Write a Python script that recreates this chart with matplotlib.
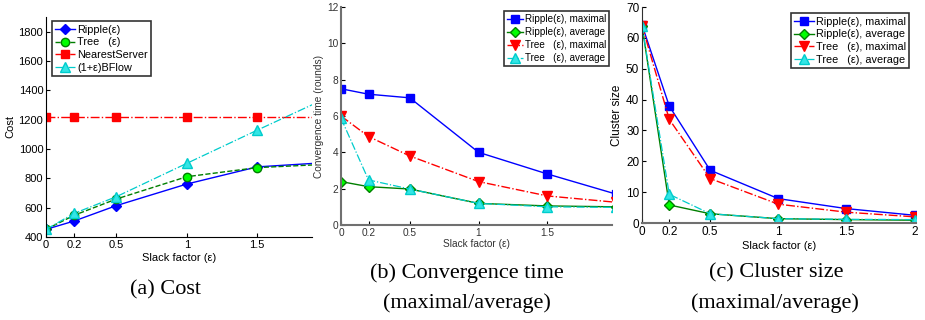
import matplotlib
matplotlib.use('Agg')
import matplotlib.pyplot as plt

plt.rcParams['font.family'] = ['Liberation Sans', 'DejaVu Sans']

# slack factor values (last point lies past the cropped axis edge in a/b)
slack = [0, 0.2, 0.5, 1, 1.5, 2]
slack_ticks = [0, 0.2, 0.5, 1, 1.5]
slack_ticks_c = [0, 0.2, 0.5, 1, 1.5, 2]

# (a) cost
cost_ripple = [452, 509, 614, 761, 878, 908]
cost_tree = [452, 548, 659, 811, 873, 896]
cost_nearest = [1218, 1218, 1218, 1218, 1218, 1218]
cost_bflow = [452, 561, 675, 902, 1128, 1350]

# (b) convergence time (rounds)
conv_ripple_max = [7.5, 7.2, 7.0, 4.0, 2.81, 1.7]
conv_ripple_avg = [2.39, 2.11, 1.98, 1.19, 1.05, 1.0]
conv_tree_max = [6.0, 4.87, 3.8, 2.39, 1.6, 1.25]
conv_tree_avg = [5.88, 2.48, 1.98, 1.19, 1.0, 0.97]

# (c) cluster size
clus_ripple_max = [64.2, 37.9, 17.1, 7.9, 4.66, 2.5]
clus_ripple_avg = [64, 5.85, 3.0, 1.4, 1.1, 0.9]
clus_tree_max = [64, 33.6, 14.4, 6.1, 3.5, 2.0]
clus_tree_avg = [64, 9.3, 3.0, 1.4, 1.2, 1.1]

fig = plt.figure(figsize=(9.25, 3.2), dpi=100)
W, H = 925.0, 320.0


def make_ax(l, r, t, b):
    ax = fig.add_axes([l / W, 1 - b / H, (r - l) / W, (b - t) / H])
    ax.spines['top'].set_visible(False)
    ax.spines['right'].set_visible(False)
    ax.tick_params(direction='in', length=3, labelsize=8, pad=2)
    return ax


blue = '#0000ff'
dgreen = '#007f00'
lgreen = '#00ff00'
red = '#ff0000'
cyan = '#00cccc'

# ---- (a) Cost ----
ax = make_ax(46, 312, 17, 237)
ax.plot(slack, cost_ripple, '-', color=blue, marker='D', ms=5, mfc=blue, mec=blue, lw=1, label=u'Ripple(\u03b5)')
ax.plot(slack, cost_tree, '--', color=dgreen, marker='o', ms=6, mfc=lgreen, mec=dgreen, lw=1, label=u'Tree   (\u03b5)')
ax.plot(slack, cost_nearest, '-.', color=red, marker='s', ms=5.5, mfc=red, mec=red, lw=1, label='NearestServer')
ax.plot(slack, cost_bflow, '-.', color=cyan, marker='^', ms=6.5, mfc='#33e5e5', mec=cyan, lw=0.9, label=u'(1+\u03b5)BFlow')
ax.set_xlim(0, 1.89)
ax.set_ylim(400, 1900)
ax.set_xticks(slack_ticks)
ax.set_xticklabels(['0', '0.2', '0.5', '1', '1.5'])
ax.set_yticks(range(400, 1801, 200))
ax.set_xlabel(u'Slack factor (\u03b5)', fontsize=8, labelpad=2)
ax.set_ylabel('Cost', fontsize=8, labelpad=2)
leg = ax.legend(loc='upper left', fontsize=7.8, fancybox=False, edgecolor='black',
                handlelength=1.8, borderpad=0.3, labelspacing=0.25, handletextpad=0.2,
                borderaxespad=0, bbox_to_anchor=(0.023, 0.98))
leg.get_frame().set_linewidth(1.2)
for s in ax.spines.values():
    s.set_color('black')

# ---- (b) Convergence time ----
ax = make_ax(341, 612, 7, 225)
ax.plot(slack, conv_ripple_max, '-', color=blue, marker='s', ms=5.5, mfc=blue, mec=blue, lw=1, label=u'Ripple(\u03b5), maximal')
ax.plot(slack, conv_ripple_avg, '-', color=dgreen, marker='D', ms=5, mfc=lgreen, mec=dgreen, lw=1, label=u'Ripple(\u03b5), average')
ax.plot(slack, conv_tree_max, '-.', color=red, marker='v', ms=7, mfc=red, mec=red, lw=1, label=u'Tree   (\u03b5), maximal')
ax.plot(slack, conv_tree_avg, '-.', color=cyan, marker='^', ms=7, mfc='#33e5e5', mec=cyan, lw=0.9, label=u'Tree   (\u03b5), average')
ax.set_xlim(0, 1.97)
ax.set_ylim(0, 12)
ax.set_xticks(slack_ticks)
ax.set_xticklabels(['0', '0.2', '0.5', '1', '1.5'])
ax.set_yticks(range(0, 13, 2))
ax.tick_params(labelsize=7.3, labelcolor='#333333')
ax.set_xlabel(u'Slack factor (\u03b5)', fontsize=7.3, labelpad=1, color='#333333')
ax.set_ylabel('Convergence time (rounds)', fontsize=7.3, labelpad=2, color='#333333')
leg = ax.legend(loc='upper right', fontsize=7.1, fancybox=False, edgecolor='black',
                handlelength=1.6, borderpad=0.3, labelspacing=0.3, handletextpad=0.2,
                borderaxespad=0, bbox_to_anchor=(0.99, 0.98))
leg.get_frame().set_linewidth(1.2)
for s in ax.spines.values():
    s.set_color('#707070')
    s.set_linewidth(1.5)

# ---- (c) Cluster size ----
ax = make_ax(642, 916, 7, 223)
ax.plot(slack, clus_ripple_max, '-', color=blue, marker='s', ms=5.5, mfc=blue, mec=blue, lw=1, label=u'Ripple(\u03b5), maximal')
ax.plot(slack, clus_ripple_avg, '-', color=dgreen, marker='D', ms=5, mfc=lgreen, mec=dgreen, lw=1, label=u'Ripple(\u03b5), average')
ax.plot(slack, clus_tree_max, '-.', color=red, marker='v', ms=7, mfc=red, mec=red, lw=1, label=u'Tree   (\u03b5), maximal')
ax.plot(slack, clus_tree_avg, '-.', color=cyan, marker='^', ms=7, mfc='#33e5e5', mec=cyan, lw=0.9, label=u'Tree   (\u03b5), average')
ax.set_xlim(0, 2.01)
ax.set_ylim(0, 70)
ax.set_xticks(slack_ticks_c)
ax.set_xticklabels(['0', '0.2', '0.5', '1', '1.5', '2'])
ax.set_yticks(range(0, 71, 10))
ax.tick_params(labelsize=8.5)
ax.set_xlabel(u'Slack factor (\u03b5)', fontsize=8, labelpad=2)
ax.set_ylabel('Cluster size', fontsize=8.5, labelpad=2)
leg = ax.legend(loc='upper right', fontsize=7.8, fancybox=False, edgecolor='black',
                handlelength=1.8, borderpad=0.3, labelspacing=0.25, handletextpad=0.2,
                borderaxespad=0, bbox_to_anchor=(0.975, 0.97))
leg.get_frame().set_linewidth(1.2)
ax.spines['left'].set_color('#303030')
ax.spines['bottom'].set_color('#707070')
ax.spines['bottom'].set_linewidth(1.5)

# captions
cap = dict(ha='center', va='center', fontsize=16, family=['Liberation Serif', 'DejaVu Serif'])
fig.text(165 / W, 1 - 290 / H, '(a) Cost', **cap)
fig.text(467 / W, 1 - 273 / H, '(b) Convergence time', **cap)
fig.text(467 / W, 1 - 303 / H, '(maximal/average)', **cap)
fig.text(776 / W, 1 - 273 / H, '(c) Cluster size', **cap)
fig.text(775 / W, 1 - 303 / H, '(maximal/average)', **cap)

plt.savefig('out.png', dpi=100)
